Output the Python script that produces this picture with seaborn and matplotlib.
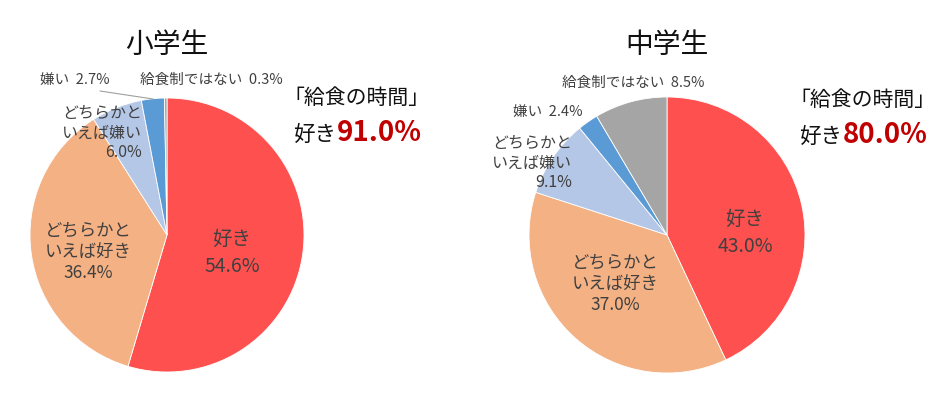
import matplotlib
matplotlib.use("Agg")
import matplotlib.pyplot as plt
import seaborn as sns

sns.set_theme(style="white")
plt.rcParams['font.family'] = ['Noto Sans CJK JP', 'DejaVu Sans']

# data
categories = ["好き", "どちらかといえば好き", "どちらかといえば嫌い", "嫌い", "給食制ではない"]
elem_values = [54.6, 36.4, 6.0, 2.7, 0.3]
junior_values = [43.0, 37.0, 9.1, 2.4, 8.5]
titles = ["小学生", "中学生"]
like_totals = ["91.0%", "80.0%"]

colors = ["#FF5050", "#F4B183", "#B4C7E7", "#5B9BD5", "#A5A5A5"]
txt = "#404040"

W, H = 942, 393
fig = plt.figure(figsize=(W / 100, H / 100), dpi=100)


def fx(x):
    return x / W


def fy(y):
    return 1 - y / H


def pie_axes(cx, cy, r):
    ax = fig.add_axes([(cx - r) / W, (H - cy - r) / H, 2 * r / W, 2 * r / H])
    return ax


def draw_pie(ax, values):
    ax.pie(values, colors=colors, startangle=90, counterclock=False,
           wedgeprops=dict(edgecolor="white", linewidth=0.6), radius=1)
    ax.set_xlim(-1, 1)
    ax.set_ylim(-1, 1)
    ax.set_aspect("equal")
    ax.axis("off")


# left: 小学生
axL = pie_axes(167, 235, 137)
draw_pie(axL, elem_values)
# right: 中学生
axR = pie_axes(667, 235, 138)
draw_pie(axR, junior_values)

fig.text(fx(167), fy(45), titles[0], ha="center", va="center", fontsize=20, color="#111111")
fig.text(fx(667), fy(45), titles[1], ha="center", va="center", fontsize=20, color="#111111")


def lab(x, y, s, size=11.5, ha="center", ls=1.2):
    fig.text(fx(x), fy(y), s, ha=ha, va="center", fontsize=size, color=txt, linespacing=ls)


# left labels
lab(232, 253, f"{categories[0]}\n{elem_values[0]:.1f}%", size=14, ls=1.35)
lab(88, 252, f"どちらかと\nいえば好き\n{elem_values[1]:.1f}%", size=12.5, ls=1.2)
lab(142, 133, f"どちらかと\nいえば嫌い\n{elem_values[2]:.1f}%", size=11.5, ha="right", ls=1.2)
lab(40, 80, f"{categories[3]}  {elem_values[3]:.1f}%", size=10.5, ha="left")
lab(140, 80, f"{categories[4]}  {elem_values[4]:.1f}%", size=10.5, ha="left")
fig.add_artist(plt.Line2D([fx(100), fx(153)], [fy(91), fy(99)], color="#A0A0A0", lw=0.8))

# right labels
lab(745, 233, f"{categories[0]}\n{junior_values[0]:.1f}%", size=14, ls=1.35)
lab(615, 284, f"どちらかと\nいえば好き\n{junior_values[1]:.1f}%", size=12.5, ls=1.2)
lab(572, 163, f"どちらかと\nいえば嫌い\n{junior_values[2]:.1f}%", size=11.5, ha="right", ls=1.2)
lab(513, 112, f"{categories[3]}  {junior_values[3]:.1f}%", size=10.5, ha="left")
lab(562, 83, f"{categories[4]}  {junior_values[4]:.1f}%", size=10.5, ha="left")

# callouts
for x0, y0, tot in [(287, 98, like_totals[0]), (793, 100, like_totals[1])]:
    fig.text(fx(x0 - 4), fy(y0), "「給食の時間」", ha="left", va="center", fontsize=15, color="#111111")
    fig.text(fx(x0 + 6), fy(y0 + 37), "好き", ha="left", va="center", fontsize=15.5, color="#111111")
    fig.text(fx(x0 + 50), fy(y0 + 35), tot, ha="left", va="center", fontsize=20,
             fontweight="bold", color="#C00000")

fig.savefig("out.png", dpi=100, facecolor="white")
